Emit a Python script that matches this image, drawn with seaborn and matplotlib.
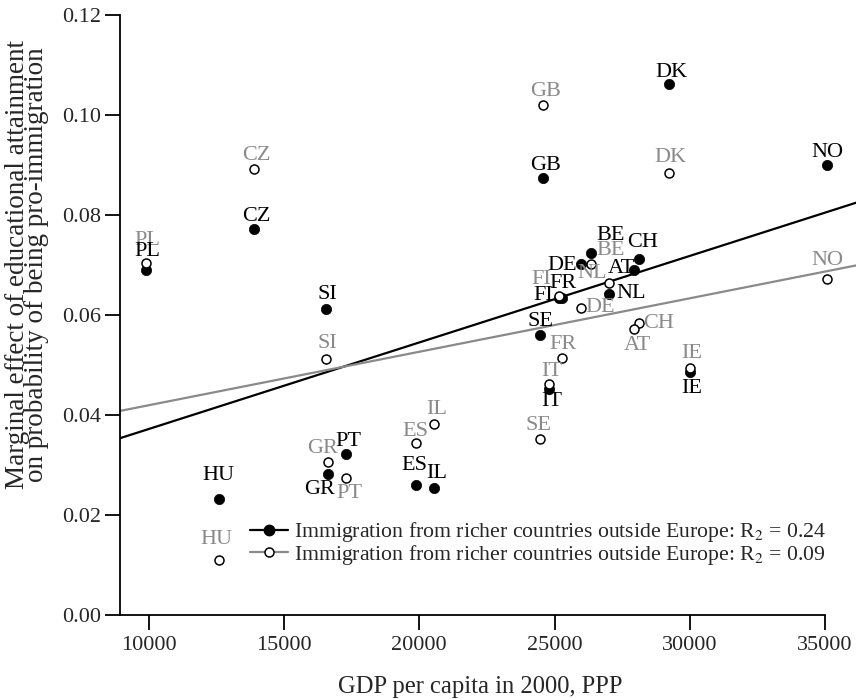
import numpy as np
import pandas as pd
import matplotlib
matplotlib.use('Agg')
import matplotlib.pyplot as plt
from matplotlib.lines import Line2D
import seaborn as sns

# country codes and GDP per capita (2000, PPP)
countries = ['PL', 'CZ', 'SI', 'HU', 'GR', 'PT', 'ES', 'IL', 'GB', 'DK', 'NO',
             'BE', 'DE', 'CH', 'AT', 'NL', 'FI', 'FR', 'SE', 'IT', 'IE']
gdp = [9900, 13900, 16550, 12580, 16610, 17280, 19890, 20540, 24590, 29230, 35070,
       26340, 25960, 28110, 27950, 27020, 25150, 25280, 24470, 24800, 30010]

# marginal effects, filled series and open series
effect_filled = [0.0690, 0.0772, 0.0613, 0.0233, 0.0282, 0.0323, 0.0260, 0.0255, 0.0874, 0.1062, 0.0900,
                 0.0725, 0.0703, 0.0713, 0.0690, 0.0643, 0.0634, 0.0635, 0.0560, 0.0453, 0.0487]
effect_open = [0.0705, 0.0893, 0.0513, 0.0110, 0.0307, 0.0275, 0.0345, 0.0383, 0.1020, 0.0885, 0.0672,
               0.0703, 0.0615, 0.0585, 0.0573, 0.0664, 0.0638, 0.0515, 0.0352, 0.0463, 0.0495]

legend_labels = ['Immigration from richer countries outside Europe: R$_2$ = 0.24',
                 'Immigration from richer countries outside Europe: R$_2$ = 0.09']

# label offsets in pixels (dx, dy; dy positive = down)
off_filled = [(1.5, -18.5), (2, -12.5), (1.5, -14), (0, -22.5), (-8, 16), (2.6, -12.3), (-2, -20),
              (3, -14), (2, -12), (2, -11.5), (0, -12.5), (19.7, -17), (-18.7, 1.7), (3.4, -16),
              (-13.3, -1), (21.5, 0), (-15.4, -2), (1.3, -14), (0.6, -13.3), (2.4, 13.4), (1.4, 16.6)]
off_open = [(1.5, -22), (2, -13), (1.5, -14.7), (-2, -20), (-5, -12.7), (3.5, 15.6), (-1, -11.5),
            (3, -14), (2, -14), (1, -14.7), (0, -18.5), (19.7, -13.3), (20, 0), (19.6, 0.6),
            (2.7, 16.7), (-16.8, -9), (-17, -17), (0.8, -12.7), (-2, -13), (2.4, -11.6), (1.4, -14.4)]

df = pd.DataFrame({'country': countries, 'gdp': gdp,
                   'filled': effect_filled, 'open': effect_open})

sns.set_style('ticks')
plt.rcParams['font.family'] = ['Liberation Serif', 'DejaVu Serif']
plt.rcParams['mathtext.fontset'] = 'stix'

GRAY = '#8a8a8a'
FS = 16

fig = plt.figure(figsize=(8.56, 6.99), dpi=100)
ax = fig.add_axes([120 / 856, 1 - 615 / 699, 736 / 856, 600 / 699])
ax.set_xlim(8939, 36140)
ax.set_ylim(0, 0.12)

# fitted lines across the whole plot region
sns.regplot(data=df, x='gdp', y='filled', ax=ax, scatter=False, ci=None, truncate=False,
            line_kws=dict(color='black', lw=1.6, zorder=2))
sns.regplot(data=df, x='gdp', y='open', ax=ax, scatter=False, ci=None, truncate=False,
            line_kws=dict(color=GRAY, lw=1.6, zorder=2))

sns.scatterplot(data=df, x='gdp', y='filled', ax=ax, color='black', s=55,
                edgecolor='black', linewidth=0.5, zorder=3)
sns.scatterplot(data=df, x='gdp', y='open', ax=ax, color='white', s=42,
                edgecolor='black', linewidth=1.1, zorder=4)

for i, row in df.iterrows():
    dx, dy = off_open[i]
    ax.annotate(row['country'], (row['gdp'], row['open']), xytext=(dx * 0.72, -dy * 0.72),
                textcoords='offset points', ha='center', va='center', fontsize=FS,
                color=GRAY, zorder=5)
for i, row in df.iterrows():
    dx, dy = off_filled[i]
    ax.annotate(row['country'], (row['gdp'], row['filled']), xytext=(dx * 0.72, -dy * 0.72),
                textcoords='offset points', ha='center', va='center', fontsize=FS,
                color='black', zorder=6)

ax.set_xlim(8939, 36140)
ax.set_ylim(0, 0.12)
ax.set_xticks([10000, 15000, 20000, 25000, 30000, 35000])
ax.set_yticks([0, 0.02, 0.04, 0.06, 0.08, 0.10, 0.12])
ax.set_yticklabels([f'{v:.2f}' for v in [0, 0.02, 0.04, 0.06, 0.08, 0.10, 0.12]])
ax.tick_params(axis='both', direction='out', length=10.8, width=1.3, labelsize=FS, color='black')
ax.tick_params(axis='x', pad=4)
ax.tick_params(axis='y', pad=3)

for side in ['top', 'right']:
    ax.spines[side].set_visible(False)
for side in ['left', 'bottom']:
    ax.spines[side].set_linewidth(1.3)
    ax.spines[side].set_color('black')
ax.spines['bottom'].set_bounds(8939, 35000)
ax.spines['left'].set_bounds(0, 0.12)

ax.set_xlabel('GDP per capita in 2000, PPP', fontsize=17.7)
ax.set_ylabel('Marginal effect of educational attainment\non probability of being pro-immigration',
              fontsize=19.5, linespacing=0.72)
ax.xaxis.set_label_coords(0.489, -0.102)
ax.yaxis.set_label_coords(-0.096, 0.584)

handles = [Line2D([], [], color='black', lw=1.6, marker='o', markersize=7.5,
                  markerfacecolor='black', markeredgecolor='black'),
           Line2D([], [], color=GRAY, lw=1.6, marker='o', markersize=6.5,
                  markerfacecolor='white', markeredgecolor='black', markeredgewidth=1.1)]
ax.legend(handles, legend_labels, loc='upper left', bbox_to_anchor=(0.176, 0.158),
          frameon=False, fontsize=15.7, handlelength=1.75, handletextpad=0.3,
          labelspacing=-0.05, borderpad=0, borderaxespad=0)

fig.savefig('out.png', dpi=100)
